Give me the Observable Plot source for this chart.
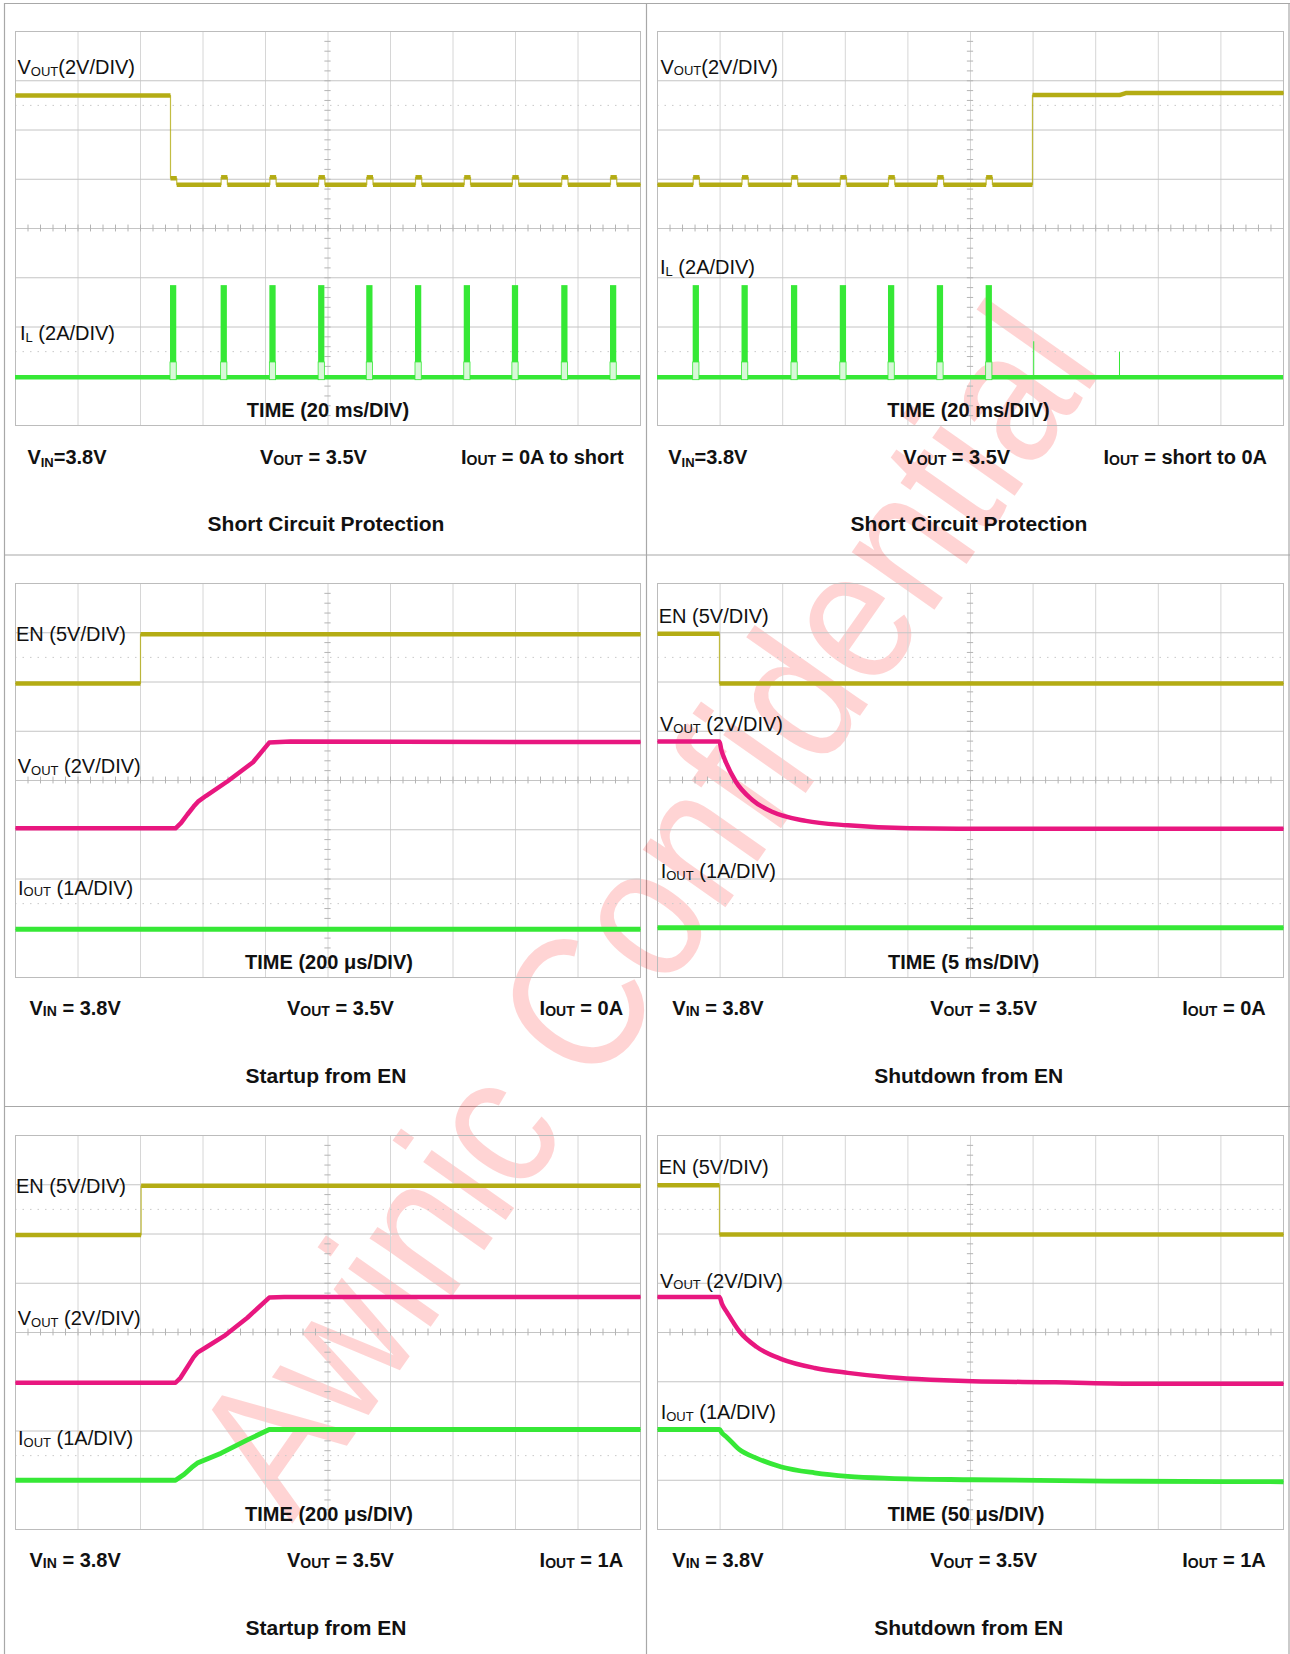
<!DOCTYPE html>
<html><head><meta charset="utf-8">
<script src="https://cdn.jsdelivr.net/npm/d3@7"></script>
<script src="https://cdn.jsdelivr.net/npm/@observablehq/plot@0.6"></script>
<style>
body{margin:0;background:#fff;}
#page{position:relative;width:1290px;height:1654px;overflow:hidden;font-family:"Liberation Sans",Arial,sans-serif;background:#fff;}
.panel{position:absolute;}
.panel svg{display:block;overflow:visible;}
.layer{position:absolute;left:0;top:0;}
</style></head>
<body><div id="page"></div>
<script>
// ---------- scope graticule (divisions) ----------
const gridX = [1, 2, 3, 4, 5, 6, 7, 8, 9];
const gridY = [1, 2, 3, 4, 5, 6, 7];
const dottedRows = [1.5, 6.5];

// ---------- Panel 1: Short circuit, IOUT 0A -> short (20 ms/div) ----------
const p1Pulses = [2.48, 3.29, 4.07, 4.85, 5.62, 6.40, 7.18, 7.95, 8.74, 9.52];
const p1VoutLevels = [6.70, 4.89, 5.04];      // high, low, hiccup bump
const p1IlLevels = [0.98, 1.28, 2.84];        // base, knee, peak

// ---------- Panel 2: Short circuit, IOUT short -> 0A (20 ms/div) ----------
const p2Pulses = [0.57, 1.35, 2.14, 2.92, 3.69, 4.47, 5.25];
const p2VoutLevels = [4.89, 5.04, 6.71, 6.75]; // low, bump, high, high after 7.38
const p2VoutSteps = [5.99, 7.38];
const p2IlLevels = [0.98, 1.28, 2.84];
const p2IlSpikes = [[6.01, 1.70], [7.38, 1.49]];

// ---------- Panel 3: Startup from EN, IOUT = 0A (200 us/div) ----------
const p3En = [[0, 5.97], [2.00, 5.97], [2.00, 6.97], [10, 6.97]];
const p3Vout = [[0, 3.03], [2.56, 3.03], [2.65, 3.14], [2.75, 3.31], [2.85, 3.47], [2.92, 3.57], [3.05, 3.69], [3.40, 3.99], [3.80, 4.37], [4.06, 4.77], [4.40, 4.79], [10, 4.78]];
const p3Iout = [[0, 0.98], [10, 0.98]];

// ---------- Panel 4: Shutdown from EN, IOUT = 0A (5 ms/div) ----------
const p4En = [[0, 6.98], [0.99, 6.98], [0.99, 5.97], [10, 5.97]];
const p4Vout = [[0, 4.79], [0.99, 4.79], [1.02, 4.62], [1.08, 4.41], [1.25, 3.98], [1.51, 3.61], [1.84, 3.36], [2.37, 3.18], [3.04, 3.09], [4.03, 3.03], [5.03, 3.02], [10, 3.02]];
const p4Iout = [[0, 1.01], [10, 1.01]];

// ---------- Panel 5: Startup from EN, IOUT = 1A (200 us/div) ----------
const p5En = [[0, 5.98], [2.01, 5.98], [2.01, 6.98], [10, 6.98]];
const p5Vout = [[0, 2.98], [2.56, 2.98], [2.64, 3.08], [2.75, 3.30], [2.85, 3.50], [2.91, 3.59], [3.05, 3.70], [3.34, 3.93], [3.71, 4.30], [4.06, 4.71], [4.30, 4.72], [10, 4.72]];
const p5Iout = [[0, 1.00], [2.56, 1.00], [2.70, 1.12], [2.82, 1.26], [2.91, 1.35], [3.29, 1.55], [3.71, 1.82], [4.06, 2.03], [10, 2.03]];

// ---------- Panel 6: Shutdown from EN, IOUT = 1A (50 us/div) ----------
const p6En = [[0, 6.99], [0.99, 6.99], [0.99, 5.99], [10, 5.99]];
const p6Vout = [[0, 4.72], [0.99, 4.72], [1.03, 4.58], [1.11, 4.41], [1.31, 4.02], [1.58, 3.71], [1.98, 3.46], [2.51, 3.28], [3.04, 3.18], [3.70, 3.09], [4.36, 3.04], [5.03, 3.01], [6.35, 2.99], [7.68, 2.96], [10, 2.96]];
const p6Iout = [[0, 2.03], [0.99, 2.03], [1.03, 1.96], [1.11, 1.87], [1.31, 1.62], [1.58, 1.45], [1.98, 1.27], [2.51, 1.15], [3.04, 1.08], [3.70, 1.04], [5.03, 1.01], [7.68, 0.98], [10, 0.97]];

// ---------- text ----------
const timeLabels = ["TIME (20 ms/DIV)", "TIME (20 ms/DIV)", "TIME (200 μs/DIV)", "TIME (5 ms/DIV)", "TIME (200 μs/DIV)", "TIME (50 μs/DIV)"];
const titles = ["Short Circuit Protection", "Short Circuit Protection", "Startup from EN", "Shutdown from EN", "Startup from EN", "Shutdown from EN"];
const ioutConditions = ["0A to short", "short to 0A", "0A", "0A", "1A", "1A"];
const vinValue = ["3.8V"];
const voutValue = ["3.5V"];
const watermark = ["Awinic Confidential"];

// ---------- colours ----------
const YELLOW = "#b4ac14", PINK = "#e8177f", GREEN = "#36e836";

// ---------- helpers ----------
const PW = 0.1; // pulse / bump width in divisions
function hiccup(pulses, base, bump, w) {
  const pts = [];
  for (const p of pulses) { pts.push([p, base], [p, bump], [p + w, bump], [p + w, base]); }
  return pts;
}
const p1Vout = [[0, p1VoutLevels[0]], [p1Pulses[0], p1VoutLevels[0]], [p1Pulses[0], p1VoutLevels[2] - 0.02], [p1Pulses[0] + PW, p1VoutLevels[2] - 0.02], [p1Pulses[0] + PW, p1VoutLevels[1]],
  ...hiccup(p1Pulses.slice(1), p1VoutLevels[1], p1VoutLevels[2], PW), [10, p1VoutLevels[1]]];
const p2Vout = [[0, p2VoutLevels[0]], ...hiccup(p2Pulses, p2VoutLevels[0], p2VoutLevels[1], PW),
  [p2VoutSteps[0], p2VoutLevels[0]], [p2VoutSteps[0], p2VoutLevels[2]], [p2VoutSteps[1], p2VoutLevels[2]], [p2VoutSteps[1] + 0.1, p2VoutLevels[3]], [10, p2VoutLevels[3]]];

function segments(pts) {
  const rows = []; let seg = 0;
  pts.forEach((p, i) => { if (i > 0 && p[0] === pts[i - 1][0]) seg++; rows.push({x: p[0], y: p[1], seg}); });
  return rows;
}
function traceMarks(pts, color, curve = "linear", width = 4.5) {
  return [
    Plot.line(pts, {x: d => d[0], y: d => d[1], stroke: color, strokeWidth: 1.2, strokeOpacity: 0.8}),
    Plot.line(segments(pts), {x: "x", y: "y", z: "seg", stroke: color, strokeWidth: width, curve, strokeLinecap: "butt"})
  ];
}
function pulseMarks(pulses, lv) {
  return [
    Plot.rect(pulses, {x1: d => d, x2: d => d + PW, y1: lv[0] - 0.06, y2: lv[1], fill: "#d8f8d8", stroke: GREEN, strokeWidth: 0.8}),
    Plot.rect(pulses, {x1: d => d, x2: d => d + PW, y1: lv[1], y2: lv[2], fill: GREEN})
  ];
}
function scope(w, marks) {
  const minorX = d3.range(0, 10.001, 0.2), minorY = d3.range(0, 8.001, 0.2);
  return Plot.plot({
    width: w, height: 394, margin: 0,
    x: {domain: [0, 10], axis: null}, y: {domain: [0, 8], axis: null},
    style: {background: "transparent", overflow: "visible"},
    marks: [
      Plot.ruleX(gridX, {stroke: "#d6d6d6", strokeWidth: 1}),
      Plot.ruleY(gridY, {stroke: "#c4c4c4", strokeWidth: 1}),
      Plot.ruleY(dottedRows, {stroke: "#c8c8c8", strokeDasharray: "1.5 6", strokeWidth: 1}),
      Plot.ruleX(minorX, {y1: 3.93, y2: 4.07, stroke: "#b4b4b4"}),
      Plot.ruleY(minorY, {x1: 4.95, x2: 5.05, stroke: "#b4b4b4"}),
      Plot.frame({stroke: "#bcbcbc"}),
      ...marks
    ]
  });
}

const page = document.getElementById("page");
// under layer: table lines + watermark
const under = `<svg class="layer" width="1290" height="1654" xmlns="http://www.w3.org/2000/svg">
<g stroke="#a8a8a8" stroke-width="1.2" fill="none">
<line x1="4" y1="3.5" x2="1290" y2="3.5"/><line x1="4.5" y1="3" x2="4.5" y2="1654"/>
<line x1="646.5" y1="3" x2="646.5" y2="1654"/><line x1="1289" y1="3" x2="1289" y2="1654"/>
<line x1="4" y1="555" x2="1290" y2="555"/><line x1="4" y1="1106.5" x2="1290" y2="1106.5"/>
</g>
<g transform="translate(292 1524) rotate(-54.9) scale(1.01 1.15)">
<text x="0" y="0" font-size="166" fill="#ff0000" fill-opacity="0.17" font-family="Liberation Sans, Arial, sans-serif">${watermark[0]}</text>
</g>
</svg>`;
page.insertAdjacentHTML("beforeend", under);

const panels = [
  {x: 15, y: 31, w: 625, marks: [...traceMarks(p1Vout, YELLOW), Plot.ruleY([p1IlLevels[0]], {stroke: GREEN, strokeWidth: 4.6}), ...pulseMarks(p1Pulses, p1IlLevels)]},
  {x: 657, y: 31, w: 626, marks: [...traceMarks(p2Vout, YELLOW), Plot.ruleY([p2IlLevels[0]], {stroke: GREEN, strokeWidth: 4.6}), ...pulseMarks(p2Pulses, p2IlLevels),
    Plot.ruleX(p2IlSpikes, {x: d => d[0], y1: p2IlLevels[0], y2: d => d[1], stroke: GREEN, strokeWidth: 1})]},
  {x: 15, y: 583, w: 625, marks: [...traceMarks(p3En, YELLOW), ...traceMarks(p3Vout, PINK), ...traceMarks(p3Iout, GREEN, "linear", 4.8)]},
  {x: 657, y: 583, w: 626, marks: [...traceMarks(p4En, YELLOW), ...traceMarks(p4Vout, PINK, "monotone-x"), ...traceMarks(p4Iout, GREEN, "linear", 4.8)]},
  {x: 15, y: 1135, w: 625, marks: [...traceMarks(p5En, YELLOW), ...traceMarks(p5Vout, PINK), ...traceMarks(p5Iout, GREEN, "linear", 4.8)]},
  {x: 657, y: 1135, w: 626, marks: [...traceMarks(p6En, YELLOW), ...traceMarks(p6Vout, PINK, "monotone-x"), ...traceMarks(p6Iout, GREEN, "monotone-x", 4.8)]}
];
for (const p of panels) {
  const div = document.createElement("div");
  div.className = "panel"; div.style.left = p.x + "px"; div.style.top = p.y + "px";
  div.appendChild(scope(p.w, p.marks));
  page.appendChild(div);
}

// text overlay
function lab(x, y, main, sub, rest, size = 20, subSize = 13, dy = 1.5, weight = "normal", anchor = "start") {
  return `<text x="${x}" y="${y}" font-size="${size}" font-weight="${weight}" text-anchor="${anchor}">${main}<tspan font-size="${subSize}" dy="${dy}">${sub}</tspan><tspan dy="${-dy}">${rest}</tspan></text>`;
}
let t = "";
// channel labels
t += lab(17.5, 74, "V", "OUT", "(2V/DIV)");
t += lab(20, 340, "I", "L", " (2A/DIV)");
t += lab(660.5, 73.5, "V", "OUT", "(2V/DIV)");
t += lab(660, 274, "I", "L", " (2A/DIV)");
const chan3 = [[16, 641, 17.7, 773, 18, 894.5], [658.7, 623, 660, 731, 660.7, 878], [16, 1193, 17.7, 1325, 18, 1445], [658.7, 1174, 660, 1287.5, 660.7, 1419]];
for (const c of chan3) {
  t += `<text x="${c[0]}" y="${c[1]}" font-size="20">EN (5V/DIV)</text>`;
  t += lab(c[2], c[3], "V", "OUT", " (2V/DIV)");
  t += lab(c[4], c[5], "I", "OUT", " (1A/DIV)");
}
const timePos = [[328, 417], [968.5, 417], [329, 969], [963.5, 969], [329, 1521], [966, 1521]];
timePos.forEach((p, i) => { t += `<text x="${p[0]}" y="${p[1]}" font-size="20" font-weight="bold" text-anchor="middle">${timeLabels[i]}</text>`; });
const titlePos = [[326, 531], [969, 531], [326, 1083], [968.7, 1083], [326, 1635], [968.7, 1635]];
titlePos.forEach((p, i) => { t += `<text x="${p[0]}" y="${p[1]}" font-size="21" font-weight="bold" text-anchor="middle">${titles[i]}</text>`; });
const condPos = [[27.4, 260, 461, 464], [668.2, 903.3, 1103.5, 464], [29.5, 287, 539.6, 1015], [672.3, 930.2, 1182.3, 1015], [29.5, 287, 539.6, 1567], [672.3, 930.2, 1182.3, 1567]];
condPos.forEach((p, i) => {
  if (i < 2) t += lab(p[0], p[3], "V", "IN", "=" + vinValue[0], 20, 13, 3, "bold");
  else t += lab(p[0], p[3], "V", "IN", " = " + vinValue[0], 20, 14, 0.5, "bold");
  t += lab(p[1], p[3], "V", "OUT", " = " + voutValue[0], 20, 14, 0.5, "bold");
  t += lab(p[2], p[3], "I", "OUT", " = " + ioutConditions[i], 20, 14, 0.5, "bold");
});
page.insertAdjacentHTML("beforeend", `<svg class="layer" width="1290" height="1654" xmlns="http://www.w3.org/2000/svg" font-family="Liberation Sans, Arial, sans-serif" fill="#111">${t}</svg>`);
</script></body></html>
